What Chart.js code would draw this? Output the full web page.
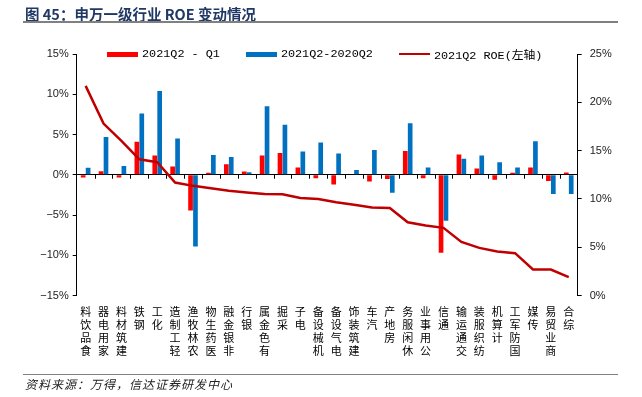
<!DOCTYPE html>
<html>
<head>
<meta charset="utf-8">
<script src="https://cdn.jsdelivr.net/npm/chart.js@4/dist/chart.umd.min.js"></script>
<style>
  body { margin: 0; background: #fff; }
  #wrap { position: relative; width: 642px; height: 397px; overflow: hidden; }
  #chart { position: absolute; left: 0; top: 0; }
  .title { position: absolute; left: 25px; top: 3px; font: bold 14.5px "Noto Sans CJK SC", sans-serif; color: #1f3864; white-space: nowrap; }
  .rule { position: absolute; left: 23px; width: 595px; height: 1.5px; background: #808080; }
  .source { position: absolute; left: 25px; top: 375px; font: italic 12px "Noto Sans CJK SC", sans-serif; letter-spacing: 1px; color: #222; white-space: nowrap; }
  #legend { position: absolute; left: 107px; top: 46px; height: 16px; display: flex; align-items: center; white-space: nowrap;
    font: 11.8px "Liberation Mono", "Noto Sans CJK SC", monospace; color: #000; }
  #legend .item { display: flex; align-items: center; margin-right: 26px; }
  #legend .key { width: 31px; margin-right: 4px; }
</style>
</head>
<body>
<div id="wrap">
  <canvas id="chart" width="642" height="397"></canvas>
  <div class="title">图 45：申万一级行业 ROE 变动情况</div>
  <div class="rule" style="top:21px"></div>
  <div class="rule" style="top:373.5px"></div>
  <div class="source">资料来源：万得，信达证券研发中心</div>
  <div id="legend"></div>
</div>
<script>
// 申万一级行业
const categories = ['食品饮料', '家用电器', '建筑材料', '钢铁', '化工', '轻工制造', '农林牧渔', '医药生物', '非银金融', '银行',
  '有色金属', '采掘', '电子', '机械设备', '电气设备', '建筑装饰', '汽车', '房地产', '休闲服务', '公用事业',
  '通信', '交通运输', '纺织服装', '计算机', '国防军工', '传媒', '商业贸易', '综合'];

// 2021Q2 - Q1 (%)
const qoq = [-0.33, 0.45, -0.33, 4.1, 2.4, 1.04, -4.45, 0.25, 1.3, 0.4,
  2.4, 2.7, 0.9, -0.45, -1.2, 0.05, -0.83, -0.54, 2.94, -0.45,
  -9.7, 2.53, 0.79, -0.62, 0.25, 0.91, -0.79, 0.29];

// 2021Q2 - 2020Q2 (%)
const yoy = [0.87, 4.7, 1.1, 7.6, 10.4, 4.5, -8.9, 2.45, 2.2, 0.3,
  8.5, 6.2, 2.9, 4.0, 2.65, 0.6, 3.07, -2.24, 6.39, 0.91,
  -5.72, 2.0, 2.4, 1.54, 0.91, 4.15, -2.4, -2.4];

// 2021Q2 ROE (%), right axis
const roe = [21.7, 17.8, 16.0, 14.1, 13.8, 11.7, 11.35, 11.1, 10.85, 10.67,
  10.5, 10.47, 10.1, 10.0, 9.65, 9.4, 9.1, 9.06, 7.58, 7.24,
  7.0, 5.55, 4.93, 4.55, 4.38, 2.69, 2.69, 1.9];

const seriesNames = ['2021Q2 - Q1', '2021Q2-2020Q2', '2021Q2 ROE(左轴)'];
const leftTicks = [-15, -10, -5, 0, 5, 10, 15];
const rightTicks = [0, 5, 10, 15, 20, 25];

const pct = v => (v < 0 ? '\u2212' + Math.abs(v) : v) + '%';

// small ticks on the zero line between categories
const zeroTicks = {
  id: 'zeroTicks',
  afterDatasetsDraw(chart) {
    const { ctx } = chart;
    const x = chart.scales.x, y = chart.scales.y;
    const y0 = y.getPixelForValue(0);
    ctx.save();
    ctx.strokeStyle = '#000';
    ctx.lineWidth = 1;
    ctx.beginPath();
    for (let i = 1; i < categories.length; i++) {
      const px = Math.round((x.getPixelForValue(i - 1) + x.getPixelForValue(i)) / 2) + 0.5;
      ctx.moveTo(px, y0);
      ctx.lineTo(px, y0 + 4);
    }
    ctx.stroke();
    ctx.restore();
  }
};

const chart = new Chart(document.getElementById('chart'), {
  data: {
    labels: categories,
    datasets: [
      {
        type: 'bar',
        label: seriesNames[0],
        data: qoq,
        backgroundColor: '#ff0000',
        borderWidth: 0,
        yAxisID: 'y',
        order: 1,
        categoryPercentage: 0.55,
        barPercentage: 0.95
      },
      {
        type: 'bar',
        label: seriesNames[1],
        data: yoy,
        backgroundColor: '#0070c0',
        borderWidth: 0,
        yAxisID: 'y',
        order: 1,
        categoryPercentage: 0.55,
        barPercentage: 0.95
      },
      {
        type: 'line',
        label: seriesNames[2],
        data: roe,
        borderColor: '#c00000',
        backgroundColor: '#c00000',
        borderWidth: 2.5,
        pointRadius: 0,
        tension: 0,
        yAxisID: 'y1',
        order: 0
      }
    ]
  },
  options: {
    responsive: false,
    animation: false,
    layout: { padding: { top: 54, left: 10, right: 10, bottom: 30 } },
    plugins: {
      tooltip: { enabled: false },
      legend: { display: false }
    },
    scales: {
      x: {
        offset: true,
        grid: { display: false, drawTicks: false },
        border: { display: false },
        afterFit: s => { s.height = 71.5; },
        ticks: {
          autoSkip: false,
          minRotation: 0,
          maxRotation: 0,
          padding: 10,
          color: '#000',
          font: { family: "'Noto Sans CJK SC', sans-serif", size: 11, lineHeight: 13 / 11 },
          callback: (v, i) => categories[i].split('').reverse()
        }
      },
      y: {
        position: 'left',
        min: -15,
        max: 15,
        afterFit: s => { s.width = 66.7; },
        afterBuildTicks: s => { s.ticks = leftTicks.map(v => ({ value: v })); },
        border: { display: true, color: '#000', width: 1 },
        grid: {
          drawOnChartArea: true,
          drawTicks: true,
          tickLength: 4,
          tickColor: '#000',
          color: c => (c.tick && c.tick.value === 0 ? '#000' : 'rgba(0,0,0,0)')
        },
        ticks: {
          padding: 4,
          color: '#222',
          font: { family: "'Liberation Sans', Arial, sans-serif", size: 11 },
          callback: v => pct(v)
        }
      },
      y1: {
        position: 'right',
        min: 0,
        max: 25,
        afterFit: s => { s.width = 54.3; },
        afterBuildTicks: s => { s.ticks = rightTicks.map(v => ({ value: v })); },
        border: { display: true, color: '#000', width: 1 },
        grid: { drawOnChartArea: false, drawTicks: true, tickLength: 4, tickColor: '#000' },
        ticks: {
          padding: 8,
          color: '#222',
          font: { family: "'Liberation Sans', Arial, sans-serif", size: 11 },
          callback: v => pct(v)
        }
      }
    }
  },
  plugins: [zeroTicks]
});

// legend row on the top edge of the plot, built from the datasets
const legend = document.getElementById('legend');
chart.data.datasets.forEach(ds => {
  const item = document.createElement('div');
  item.className = 'item';
  const key = document.createElement('span');
  key.className = 'key';
  key.style.height = ds.type === 'line' ? '2.5px' : '5px';
  key.style.background = ds.type === 'line' ? ds.borderColor : ds.backgroundColor;
  const txt = document.createElement('span');
  txt.textContent = ds.label;
  item.appendChild(key);
  item.appendChild(txt);
  legend.appendChild(item);
});
</script>
</body>
</html>
